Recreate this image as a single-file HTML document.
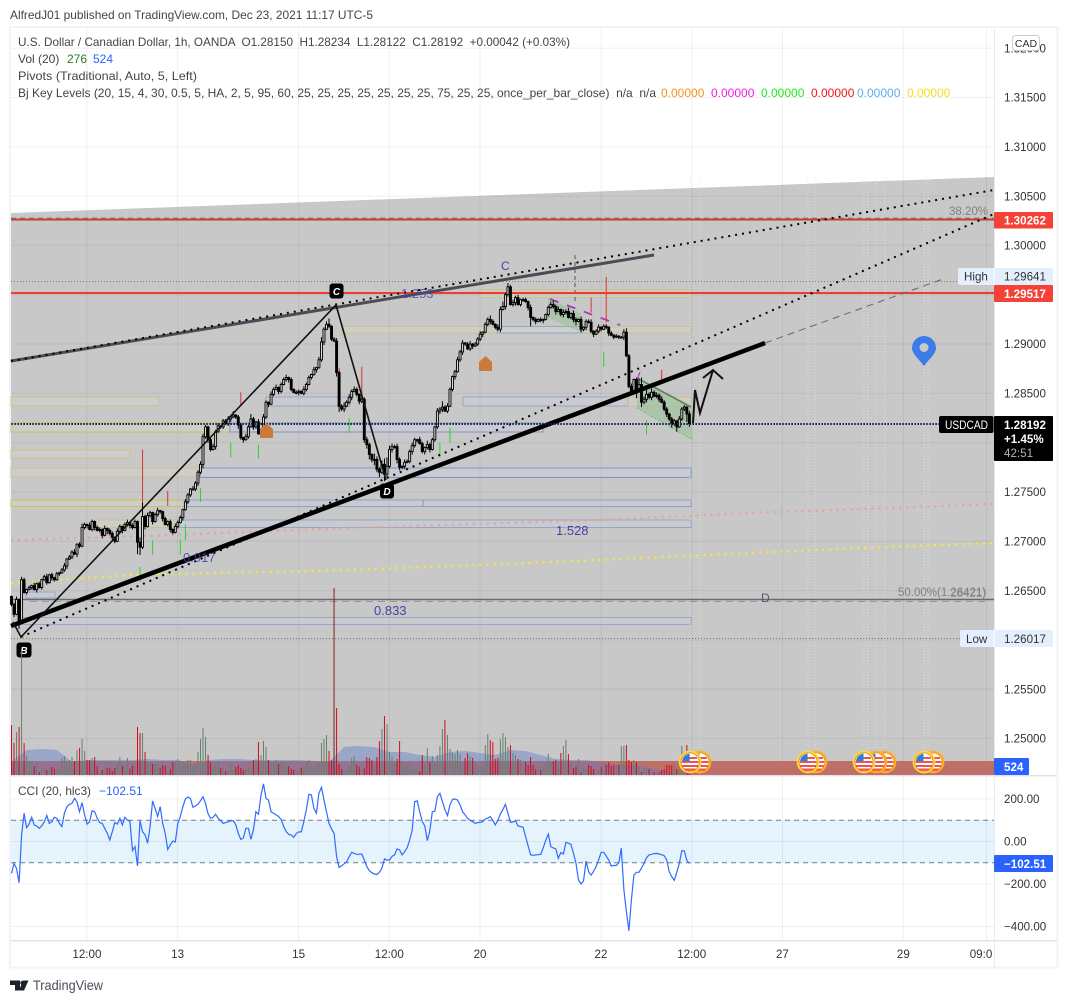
<!DOCTYPE html>
<html lang="en">
<head>
<meta charset="utf-8">
<title>USDCAD 1h chart</title>
<style>
html,body{margin:0;padding:0;background:#fff;}
body{width:1068px;height:1003px;overflow:hidden;}
svg{display:block;font-family:"Liberation Sans",sans-serif;}
</style>
</head>
<body>
<svg id="chart" xmlns="http://www.w3.org/2000/svg" width="1068" height="1003" viewBox="0 0 1068 1003">
  <rect x="0" y="0" width="1068" height="1003" fill="#ffffff"/>
  <text x="10" y="19" font-size="12" fill="#444" textLength="363" lengthAdjust="spacingAndGlyphs">AlfredJ01 published on TradingView.com, Dec 23, 2021 11:17 UTC-5</text>
  <rect x="10" y="27" width="1047.5" height="940.5" fill="#fff" stroke="#f0f3fa" stroke-width="2"/>
  <polygon points="11,213 994,177 994,775 11,775" fill="#c8c8c8"/>
  <rect x="11" y="820" width="983" height="43" fill="#e5f3fd"/>
  <g id="grid"></g>
  <g id="levels" fill-opacity="0.22" stroke-opacity="0.85">
    <rect x="11" y="397" width="148" height="9" fill="#ddd" stroke="#cdbf5a" stroke-width="0.8"/>
    <rect x="266" y="397" width="84" height="9" fill="#cfd6e8" stroke="#7f96c9" stroke-width="0.8"/>
    <rect x="11" y="423" width="219" height="9" fill="#ddd" stroke="#cdbf3a" stroke-width="1"/>
    <rect x="230" y="423" width="313" height="9" fill="#cfd6e8" stroke="#6f8cd0" stroke-width="1"/>
    <rect x="11" y="450" width="119" height="8" fill="#ddd" stroke="#cdbf5a" stroke-width="0.8"/>
    <rect x="11" y="468" width="187" height="9" fill="#ddd" stroke="#cdbf5a" stroke-width="0.8"/>
    <rect x="200" y="468" width="491" height="9.5" fill="#cfd6e8" stroke="#6f8cd0" stroke-width="1"/>
    <rect x="11" y="500" width="174" height="6.5" fill="#ddd" stroke="#cdbf3a" stroke-width="1"/>
    <rect x="187" y="500" width="504" height="6.5" fill="#cfd6e8" stroke="#6f8cd0" stroke-width="0.8"/>
    <line x1="423" y1="500" x2="423" y2="507" stroke="#6f8cd0"/>
    <rect x="95" y="520" width="83" height="7.5" fill="#ddd" stroke="#cdbf5a" stroke-width="0.8"/>
    <rect x="178" y="520" width="513" height="7.5" fill="#cfd6e8" stroke="#7f96c9" stroke-width="0.8"/>
    <rect x="26" y="592" width="29" height="6" fill="#cfd6e8" stroke="#7f96c9" stroke-width="0.8"/>
    <rect x="22" y="617.5" width="669" height="7" fill="#cfd6e8" stroke="#7f96c9" stroke-width="0.8"/>
    <rect x="480" y="290" width="211" height="7.5" fill="#ddd" stroke="#cdbf5a" stroke-width="0.8"/>
    <rect x="342" y="326.5" width="349" height="6.5" fill="#ddd" stroke="#cdbf5a" stroke-width="0.8"/>
    <rect x="497" y="326.5" width="85" height="6.5" fill="#cfd6e8" stroke="#7f96c9" stroke-width="0.8"/>
    <rect x="463" y="397" width="165" height="9" fill="#cfd6e8" stroke="#7f96c9" stroke-width="0.8"/>
    <rect x="628" y="397" width="63" height="9" fill="#ddd" stroke="#cdbf5a" stroke-width="0.8"/>
  </g>
  <g stroke="#e4e4e4" stroke-width="1" stroke-dasharray="1 2" opacity="0.8">
    <line x1="690" y1="177" x2="690" y2="750"/>
    <line x1="700" y1="177" x2="700" y2="750"/>
    <line x1="808" y1="177" x2="808" y2="750"/>
    <line x1="815" y1="177" x2="815" y2="750"/>
    <line x1="864" y1="177" x2="864" y2="750"/>
    <line x1="868" y1="177" x2="868" y2="750"/>
    <line x1="876" y1="177" x2="876" y2="750"/>
    <line x1="885" y1="177" x2="885" y2="750"/>
    <line x1="924" y1="177" x2="924" y2="750"/>
    <line x1="928" y1="177" x2="928" y2="750"/>
  </g>
  <g>
    <polygon points="548,298 580,313 583,333 548,318" fill="#90c090" fill-opacity="0.5"/>
    <polygon points="637,378 691,407 693,440 637,408" fill="#90c090" fill-opacity="0.5"/>
    <line x1="637" y1="378" x2="691" y2="407" stroke="#5c7f5c" stroke-width="1.6"/>
    <line x1="637" y1="408" x2="693" y2="440" stroke="#66c066" stroke-width="1" stroke-dasharray="2 2"/>
    <line x1="550" y1="299" x2="620" y2="325" stroke="#a835b8" stroke-width="1.8" stroke-dasharray="9 9"/>
    <polyline points="630,392 637,380 640,372" fill="none" stroke="#b040c0" stroke-width="1.2"/>
    <line x1="575" y1="255" x2="575" y2="303" stroke="#555" stroke-width="1" stroke-dasharray="4 3"/>
  </g>
  <g id="signals"></g>
  <g>
    <line x1="11" y1="218" x2="994" y2="218" stroke="#8a8a8a" stroke-width="1" stroke-dasharray="5 4"/>
    <line x1="11" y1="219.5" x2="994" y2="219.5" stroke="#c73a2e" stroke-width="2"/>
    <line x1="11" y1="281.5" x2="958" y2="281.5" stroke="#777" stroke-width="1" stroke-dasharray="1 2"/>
    <line x1="11" y1="293" x2="994" y2="293" stroke="#f23a30" stroke-width="2"/>
    <line x1="11" y1="638.5" x2="960" y2="638.5" stroke="#777" stroke-width="1" stroke-dasharray="1 2"/>
    <line x1="11" y1="599.5" x2="994" y2="599.5" stroke="#666a74" stroke-width="1.6"/>
    <line x1="30" y1="601.5" x2="990" y2="601.5" stroke="#999" stroke-width="1" stroke-dasharray="7 5"/>
  </g>
  <g fill="none">
    <polyline points="11,583 130,575 350,570 600,560 860,548 994,543" stroke="#f5e93a" stroke-width="2.4" stroke-dasharray="2 5"/>
    <polyline points="11,540 120,537 350,528 600,520 750,513 860,509 994,504" stroke="#e6a39a" stroke-width="2.4" stroke-dasharray="2 5"/>
    <line x1="11" y1="361" x2="654" y2="255" stroke="#4a4c55" stroke-width="3"/>
    <line x1="11" y1="361" x2="994" y2="190" stroke="#000" stroke-width="2" stroke-dasharray="2 5"/>
    <line x1="21" y1="637" x2="994" y2="214" stroke="#000" stroke-width="2" stroke-dasharray="2 5"/>
    <line x1="765" y1="343" x2="943" y2="279" stroke="#666" stroke-width="1" stroke-dasharray="7 5"/>
  </g>
  <g id="candles"></g>
  <g fill="none">
    <line x1="11" y1="626" x2="765" y2="343" stroke="#000" stroke-width="4.5"/>
    <polyline points="13,622 21,637 336,305 386,480" stroke="#111" stroke-width="1.6"/>
    <polyline points="693,423 695,390 700,413 713,370" stroke="#111" stroke-width="2"/>
    <polyline points="703,378 713,370 723,379" stroke="#111" stroke-width="2"/>
  </g>
  <g>
    <line x1="11" y1="424" x2="939" y2="424" stroke="#1c3a90" stroke-width="1.4" stroke-dasharray="1 2"/>
    <line x1="12" y1="424" x2="939" y2="424" stroke="#000" stroke-width="1.4" stroke-dasharray="1 2"/>
  </g>
  <g>
    <polygon points="266.500,423 273,429 273,438 260,438 260,429" fill="#cc7a3c"/>
    <polygon points="485.500,356 492,362 492,371 479,371 479,362" fill="#cc7a3c"/>
    <rect x="16.500" y="642.500" width="15" height="15" rx="3" fill="#000"/>
    <text x="24" y="654" font-size="10" font-weight="bold" font-style="italic" fill="#fff" text-anchor="middle">B</text>
    <rect x="329.500" y="283.500" width="14" height="15" rx="3" fill="#000"/>
    <text x="336.500" y="295" font-size="10" font-weight="bold" font-style="italic" fill="#fff" text-anchor="middle">C</text>
    <rect x="380" y="483.500" width="14" height="15" rx="3" fill="#000"/>
    <text x="387" y="495" font-size="10" font-weight="bold" font-style="italic" fill="#fff" text-anchor="middle">D</text>
  </g>
  <g fill="#4b3fa5" font-size="13">
    <text x="401" y="298" opacity="0.8">1.253</text>
    <text x="501" y="270" font-size="12">C</text>
    <text x="556" y="535">1.528</text>
    <text x="183" y="562" opacity="0.85">0.917</text>
    <text x="374" y="615">0.833</text>
    <text x="761" y="602" font-size="12" fill="#555a70">D</text>
  </g>
  <g fill="#808080" font-size="11.500">
    <text x="949" y="215">38.20%</text>
    <text x="898" y="596">50.00%(1.26421)</text>
    <text x="950" y="597" opacity="0.7">26421)</text>
  </g>
  <g>
    <path d="M924 366 C919 359 912 354 912 348 A12 12 0 0 1 936 348 C936 354 929 359 924 366 Z" fill="#3c7be8"/>
    <circle cx="924" cy="347.500" r="4.500" fill="#c8c8c8"/>
  </g>
  <rect x="11" y="761" width="983" height="14" fill="#bd6f68"/>
  <g id="volume"></g>
  <polyline id="cciLine" fill="none" stroke="#2f6bff" stroke-width="1.200"/>
  <g id="flags"></g>
  <g>
    <rect x="11" y="775" width="1046" height="1.500" fill="#e0e3eb"/>
    <rect x="11" y="940" width="1046" height="1.500" fill="#e0e3eb"/>
    <rect x="994" y="29" width="1" height="938" fill="#e9ebf2"/>
  </g>
  <g id="axisText" fill="#333" font-size="11.600"></g>
  <g font-size="12" fill="#444">
    <text x="18" y="46" textLength="552" lengthAdjust="spacingAndGlyphs" xml:space="preserve">U.S. Dollar / Canadian Dollar, 1h, OANDA  O1.28150  H1.28234  L1.28122  C1.28192  +0.00042 (+0.03%)</text>
    <text x="18" y="63">Vol (20)</text>
    <text x="67" y="63" fill="#2a7a2a">276</text>
    <text x="93" y="63" fill="#2962ff">524</text>
    <text x="18" y="80" textLength="179" lengthAdjust="spacingAndGlyphs">Pivots (Traditional, Auto, 5, Left)</text>
    <text x="18" y="97" textLength="638" lengthAdjust="spacingAndGlyphs" xml:space="preserve">Bj Key Levels (20, 15, 4, 30, 0.5, 5, HA, 2, 5, 95, 60, 25, 25, 25, 25, 25, 25, 25, 75, 25, 25, once_per_bar_close)  n/a  n/a</text>
    <text x="661" y="97" fill="#f7931a">0.00000</text>
    <text x="711" y="97" fill="#f020e0">0.00000</text>
    <text x="761" y="97" fill="#22ee22">0.00000</text>
    <text x="811" y="97" fill="#f01818">0.00000</text>
    <text x="857" y="97" fill="#5ab0f0">0.00000</text>
    <text x="907" y="97" fill="#f5e020">0.00000</text>
    <text x="18" y="795" textLength="73" lengthAdjust="spacingAndGlyphs">CCI (20, hlc3)</text>
    <text x="99" y="795" fill="#2962ff">−102.51</text>
  </g>
  <g font-size="11.600">
    <rect x="1012.500" y="35.500" width="27" height="15" rx="3" fill="#fff" stroke="#c9ccd4"/>
    <text x="1026" y="47" text-anchor="middle" fill="#333" font-size="10.500">CAD</text>
    <rect x="994" y="212" width="59" height="16.500" rx="1" fill="#f44336"/>
    <text x="1004" y="224.500" fill="#fff" font-weight="bold">1.30262</text>
    <rect x="958" y="268" width="95" height="17" rx="2" fill="#e3effd"/>
    <rect x="993.500" y="268" width="1" height="17" fill="#fff"/>
    <text x="964" y="280.500" fill="#333">High</text>
    <text x="1004" y="280.500" fill="#333">1.29641</text>
    <rect x="994" y="285" width="59" height="17" rx="1" fill="#f44336"/>
    <text x="1004" y="298" fill="#fff" font-weight="bold">1.29517</text>
    <rect x="939" y="416" width="54.500" height="17" rx="2" fill="#000"/>
    <text x="945" y="429" fill="#fff" font-size="11.500" textLength="43" lengthAdjust="spacingAndGlyphs">USDCAD</text>
    <rect x="994" y="416" width="59" height="45" rx="1" fill="#000"/>
    <text x="1004" y="429" fill="#fff" font-weight="bold">1.28192</text>
    <text x="1004" y="443" fill="#fff" font-weight="bold">+1.45%</text>
    <text x="1004" y="457" fill="#b5b5b5">42:51</text>
    <rect x="960" y="630" width="93" height="17" rx="2" fill="#e3effd"/>
    <rect x="993.500" y="630" width="1" height="17" fill="#fff"/>
    <text x="966" y="643" fill="#333">Low</text>
    <text x="1004" y="643" fill="#333">1.26017</text>
    <rect x="994" y="758" width="35" height="17" rx="1" fill="#2962ff"/>
    <text x="1004" y="771" fill="#fff" font-weight="bold">524</text>
    <rect x="994" y="855" width="59" height="17" rx="1" fill="#2962ff"/>
    <text x="1004" y="868" fill="#fff" font-weight="bold">−102.51</text>
  </g>
  <g>
    <path d="M10 980.500 H20 V990.500 H15 V985 H10 Z M28.500 980.500 L24 990.500 H18.800 L23.300 980.500 Z" fill="#1e222d"/>
    <circle cx="22.500" cy="983" r="2.200" fill="#1e222d"/>
    <text x="33" y="990" font-size="14" fill="#4a4e59" textLength="70" lengthAdjust="spacingAndGlyphs">TradingView</text>
  </g>
</svg>
<script>
// ---- Chart data ----
const closes = [
1.2636,1.2626,1.2641,1.2619,1.2661,1.2648,1.2651,1.2653,1.2655,1.2651,1.2657,1.2653,1.2661,1.2664,1.2658,1.2666,1.2663,1.2661,1.2667,1.2668,
1.2671,1.2675,1.2682,1.2684,1.2689,1.2687,1.2697,1.2695,1.2714,1.2717,1.2716,1.2712,1.2720,1.2714,1.2711,1.2712,1.2706,1.2713,1.2711,1.2708,
1.2704,1.2700,1.2710,1.2715,1.2711,1.2717,1.2719,1.2716,1.2714,1.2720,1.2699,1.2694,1.2725,1.2715,1.2726,1.2729,1.2720,1.2727,1.2731,1.2730,
1.2723,1.2717,1.2720,1.2712,1.2709,1.2715,1.2719,1.2724,1.2732,1.2740,1.2747,1.2753,1.2753,1.2759,1.2770,1.2778,1.2806,1.2816,1.2803,1.2793,
1.2796,1.2811,1.2817,1.2816,1.2822,1.2819,1.2824,1.2826,1.2828,1.2826,1.2818,1.2805,1.2803,1.2806,1.2816,1.2824,1.2816,1.2821,1.2809,1.2810,
1.2826,1.2841,1.2839,1.2849,1.2854,1.2856,1.2852,1.2859,1.2864,1.2866,1.2864,1.2854,1.2851,1.2851,1.2852,1.2850,1.2854,1.2859,1.2866,1.2869,
1.2874,1.2876,1.2884,1.2902,1.2915,1.2920,1.2918,1.2905,1.2903,1.2871,1.2837,1.2834,1.2837,1.2841,1.2846,1.2852,1.2854,1.2849,1.2842,1.2844,
1.2803,1.2798,1.2788,1.2783,1.2783,1.2773,1.2770,1.2778,1.2768,1.2776,1.2793,1.2796,1.2796,1.2783,1.2775,1.2776,1.2780,1.2781,1.2791,1.2797,
1.2803,1.2803,1.2799,1.2791,1.2795,1.2798,1.2793,1.2803,1.2816,1.2832,1.2834,1.2836,1.2832,1.2837,1.2854,1.2867,1.2872,1.2884,1.2892,1.2901,
1.2900,1.2895,1.2900,1.2898,1.2900,1.2905,1.2910,1.2912,1.2920,1.2925,1.2923,1.2920,1.2917,1.2915,1.2935,1.2938,1.2950,1.2958,1.2940,1.2942,
1.2947,1.2940,1.2945,1.2945,1.2943,1.2937,1.2927,1.2925,1.2923,1.2925,1.2924,1.2925,1.2930,1.2937,1.2940,1.2938,1.2933,1.2935,1.2930,1.2932,
1.2933,1.2927,1.2931,1.2925,1.2923,1.2925,1.2915,1.2917,1.2923,1.2922,1.2913,1.2910,1.2913,1.2917,1.2915,1.2918,1.2917,1.2911,1.2909,1.2907,
1.2908,1.2907,1.2907,1.2912,1.2888,1.2857,1.2852,1.2864,1.2854,1.2859,1.2841,1.2844,1.2849,1.2846,1.2851,1.2847,1.2848,1.2844,1.2841,1.2834,
1.2829,1.2824,1.2819,1.2822,1.2816,1.2824,1.2834,1.2836,1.2829,1.28192];
const upperWicks = [
1,2,3,1,3,2,1,2,1,3,1,2,1,2,3,1,2,1,2,1,2,3,1,2,2,3,1,2,4,2,1,3,2,1,2,2,1,3,1,2,
2,1,3,2,1,2,3,1,2,2,1,5,14,2,3,2,1,2,3,1,1,2,1,2,1,3,2,2,1,3,2,1,3,2,2,3,3,2,1,2,
3,2,3,1,2,2,3,2,4,1,2,2,1,3,2,5,2,1,3,2,3,2,1,3,2,3,1,2,2,3,1,2,1,2,2,1,3,2,2,1,
3,1,3,5,2,3,6,1,2,3,2,2,4,2,3,2,3,2,1,3,2,3,2,1,6,3,2,4,6,9,4,3,2,3,2,1,3,2,2,3,
2,1,3,2,1,4,2,2,1,3,2,6,2,3,2,1,2,3,2,3,1,2,3,1,2,2,3,1,2,2,4,2,1,3,3,5,2,4,2,3,
2,3,1,2,2,1,3,1,2,1,2,1,1,2,3,4,2,3,1,3,2,4,1,3,2,1,3,1,2,2,3,1,2,3,1,2,2,1,2,1,
2,1,1,3,4,2,3,1,2,6,7,3,9,2,4,2,3,2,3,2,2,1,2,2,1,3,2,2,1,3,2,8,2,1];
const lowerWicks = [
2,3,1,8,2,1,2,1,2,1,3,1,2,1,2,1,3,2,1,2,1,2,3,1,2,1,3,2,1,2,3,1,2,3,1,2,3,1,4,2,
3,2,1,2,3,1,2,3,2,1,12,8,2,3,1,2,3,1,2,2,3,1,2,3,2,1,2,1,3,1,2,2,1,2,3,2,4,2,3,2,
1,3,1,2,2,1,2,3,1,2,4,2,3,1,2,1,3,2,1,3,1,2,3,1,2,1,3,2,1,2,3,2,1,2,3,1,2,2,1,2,
1,3,1,2,3,1,2,2,1,4,6,2,3,1,2,3,1,2,3,2,3,4,5,3,6,3,5,2,7,3,2,3,2,4,3,2,3,1,2,3,
2,3,1,2,3,2,3,1,2,2,3,3,1,2,1,2,3,1,2,3,2,1,2,3,1,2,2,3,1,2,3,1,2,2,3,1,3,2,1,2,
3,1,2,2,1,3,9,2,3,1,2,3,1,2,1,2,3,1,2,3,2,1,2,3,4,1,3,2,3,1,2,3,1,2,2,1,2,3,1,2,
1,2,1,3,1,2,3,2,9,3,5,2,3,2,3,1,2,3,1,2,3,2,4,2,5,1,2,2,8,3];
const volumes = [
2500,1600,2150,2400,6250,1600,950,650,700,450,550,150,250,350,250,350,400,300,300,300,
850,950,600,750,900,700,1250,1350,1800,1200,750,750,850,900,450,150,250,450,350,350,
200,350,550,900,450,400,850,300,450,450,2400,2100,2100,1150,700,600,550,550,550,350,
500,450,200,300,650,650,800,700,650,550,750,750,450,600,1150,1800,2350,1900,1000,650,
450,600,700,350,350,200,250,550,300,400,500,350,250,300,400,450,750,800,1650,1000,
1700,1400,750,600,650,750,550,700,700,500,450,300,250,150,250,350,350,650,750,500,
400,600,600,1600,1800,2000,1200,750,9350,3350,550,300,200,300,450,850,950,500,400,300,
350,900,850,750,500,900,1700,2300,2950,2550,1150,900,650,800,1700,700,400,550,550,300,
350,350,200,1000,500,1350,650,950,650,1000,1450,2300,2750,2000,1300,1100,1050,1250,1050,200,
850,1100,950,850,700,450,450,400,1500,2050,1750,1650,800,850,1800,2100,1900,1400,1500,1100,
1000,800,750,150,650,500,900,500,300,450,250,400,650,1050,700,700,750,600,1100,1450,
1750,1050,700,350,400,800,150,350,300,500,450,300,100,300,400,250,500,650,450,500,
500,500,1450,1450,1500,750,650,750,650,450,150,350,350,300,150,150,150,150,250,300,
500,500,500,500,300,300,1450,600,1500,524];
const volumeMaSampleStep = 6;
const volumeMaSamples = [
650,1250,1300,1250,650,750,750,750,750,800,750,750,550,750,800,800,750,750,750,750,
700,650,1400,1450,1400,1150,1150,1000,900,1150,1200,1100,1000,1250,1200,1000,800,750,750,650,
500,500,400,200,100,50];
const cciValues = [
-150,-103,-126,-194,31,133,65,82,114,78,73,62,73,93,123,85,93,114,109,85,
70,133,164,175,180,203,187,140,183,125,82,93,145,140,109,89,85,62,38,7,
46,89,82,109,78,114,101,95,-43,-24,-115,98,46,31,-8,70,191,156,117,164,
85,38,-37,-16,2,-2,85,117,164,200,209,203,161,167,175,192,211,180,130,109,
114,128,109,98,85,89,93,97,98,78,38,10,16,62,62,10,54,140,128,219,
271,203,195,140,133,125,117,104,70,46,34,31,20,38,45,45,93,148,222,219,
156,133,227,255,195,140,85,60,38,-71,-122,-115,-105,-95,-71,-51,-56,-60,-60,-59,
-87,-118,-137,-147,-153,-156,-145,-126,-82,-87,-87,-70,-63,-35,-40,-63,-48,-30,7,54,
188,191,140,93,73,4,50,140,143,211,227,188,150,122,172,198,200,195,172,140,
125,109,100,93,85,89,90,93,106,110,117,100,78,100,130,150,175,133,90,92,
98,73,70,67,23,-20,-63,-65,-63,-62,-60,-30,5,35,-24,-30,-35,-79,-52,-59,
-4,-8,-13,-56,-103,-181,-200,-186,-92,-142,-158,-140,-118,-85,-51,-51,-68,-87,-115,-113,
-113,-100,-31,-228,-330,-420,-275,-158,-145,-145,-125,-103,-76,-63,-60,-57,-56,-59,-62,-67,
-87,-142,-165,-183,-145,-103,-43,-44,-90,-102.51];
const priceTicks = [1.32,1.315,1.31,1.305,1.30,1.29,1.285,1.275,1.27,1.265,1.255,1.25];
const priceGridOnly = [1.295,1.28,1.26];
const cciTicks = [200,0,-200,-400];
const cciGuides = [100,-100];
const timeTickBars = [30,66,114,150,186,234,270,306,354,387];
const timeTickLabels = ['12:00','13','15','12:00','20','22','12:00','27','29','09:0'];
const redSignalBars = [52,62,91,130,139,230,236,258];
const redSignalHighs = [1.2793,1.2751,1.2851,1.2876,1.2877,1.2947,1.2968,1.2874];
const redSignalLows = [1.2737,1.2736,1.2838,1.2859,1.2847,1.2932,1.2922,1.2864];
const greenSignalBars = [51,56,67,69,75,87,98,134,170,174,235,252];
const greenSignalHighs = [1.2674,1.2701,1.2702,1.2717,1.2754,1.2800,1.2798,1.2825,1.2800,1.2815,1.2892,1.2823];
const greenSignalLows = [1.2659,1.2686,1.2686,1.2701,1.2740,1.2785,1.2784,1.2810,1.2785,1.2800,1.2877,1.2808];
const flagEventBars = [273.2,269.3,319.2,316.1,346.6,343,338.3,365.7,362.1];
const flagEventIsFront = [false,true,false,true,false,false,true,false,true];

// ---- Axis functions ----
const SVGNS = 'http://www.w3.org/2000/svg';
const xOf = i => 11.5 + i * 2.52;
const yOf = p => 97.5 + (1.315 - p) * 9861.5;
const volH = v => v / 50;
const cciY = v => 841.5 - v * 0.2125;
const PIP = 0.0001;
const mk = (tag, attrs, parent) => {
  const el = document.createElementNS(SVGNS, tag);
  for (const k in attrs) el.setAttribute(k, attrs[k]);
  parent.appendChild(el);
  return el;
};
const grid = document.getElementById('grid');
const axisText = document.getElementById('axisText');
const GRID = 'rgba(42,46,57,0.07)';

// Grid and price ticks
[...priceTicks, ...priceGridOnly].forEach(p => {
  const l = mk('line', {x1: 11, x2: 994, y1: yOf(p), y2: yOf(p), stroke: GRID}, grid);
  
  
});
priceTicks.forEach(p => {
  const t = mk('text', {x: 1004, y: yOf(p) + 4.2}, axisText);
  t.textContent = p.toFixed(5);
  
  
});
cciTicks.forEach(v => {
  const l = mk('line', {x1: 11, x2: 994, y1: cciY(v), y2: cciY(v), stroke: GRID}, grid);
  
  
  const t = mk('text', {x: 1004, y: cciY(v) + 4.2}, axisText);
  t.textContent = v.toFixed(2).replace('-', '−');
  
  
});
cciGuides.forEach(v => {
  const l = mk('line', {x1: 11, x2: 994, y1: cciY(v), y2: cciY(v), stroke: '#787b86', 'stroke-dasharray': '5 4'}, grid);
  
  
});
timeTickBars.forEach((b, n) => {
  const x = xOf(b) - 0.2;
  const l = mk('line', {x1: x, x2: x, y1: 29, y2: 940, stroke: GRID}, grid);
  
  
  const t = mk('text', {x: Math.min(x, 981), y: 958, 'text-anchor': 'middle'}, axisText);
  t.textContent = timeTickLabels[n];
  
  
});

// Signal ticks
const signals = document.getElementById('signals');
redSignalBars.forEach((b, n) => {
  const l = mk('line', {x1: xOf(b), x2: xOf(b), y1: yOf(redSignalHighs[n]), y2: yOf(redSignalLows[n]), stroke: '#d9332b', 'stroke-width': 1}, signals);
  
  
});
greenSignalBars.forEach((b, n) => {
  const l = mk('line', {x1: xOf(b), x2: xOf(b), y1: yOf(greenSignalHighs[n]), y2: yOf(greenSignalLows[n]), stroke: '#2fd02f', 'stroke-width': 1}, signals);
  
  
});

// Candles
const candles = document.getElementById('candles');
closes.forEach((c, i) => {
  const o = i === 0 ? c + 0.0008 : closes[i - 1];
  const top = Math.max(o, c), bot = Math.min(o, c);
  const x = xOf(i);
  const wick = mk('line', {x1: x, x2: x, y1: yOf(top + upperWicks[i] * PIP), y2: yOf(bot - lowerWicks[i] * PIP), stroke: '#000', 'stroke-width': 1}, candles);
  
  
  const up = c >= o;
  const body = mk('rect', {x: x - 1, y: yOf(top), width: 2, height: Math.max(yOf(bot) - yOf(top), 1), fill: up ? '#d8d8d8' : '#000', stroke: '#000', 'stroke-width': 0.9}, candles);
  
  
});

// Volume moving-average area and bars
const volume = document.getElementById('volume');
const maPts = volumeMaSamples.map((v, n) => xOf(n * volumeMaSampleStep) + ',' + (775 - volH(v)));
const maArea = mk('polygon', {points: xOf(0) + ',775 ' + maPts.join(' ') + ' ' + xOf((volumeMaSamples.length - 1) * volumeMaSampleStep) + ',775', fill: '#5a78c8', 'fill-opacity': 0.42}, volume);


volumes.forEach((v, i) => {
  const up = i > 0 && closes[i] >= closes[i - 1];
  const h = volH(v);
  const bar = mk('rect', {x: xOf(i) - 0.5, y: 775 - h, width: 1, height: h, fill: up ? '#66806c' : (v > 5000 ? '#8a1c20' : '#cc0f1c')}, volume);
  
  
});

// CCI line
document.getElementById('cciLine').setAttribute('points', cciValues.map((v, i) => xOf(i).toFixed(1) + ',' + cciY(v).toFixed(1)).join(' '));

// Event icons
const flags = document.getElementById('flags');
flagEventBars.forEach((b, n) => {
  const cx = xOf(b), cy = 762, front = flagEventIsFront[n];
  const g = mk('g', {}, flags);
  
  
  const ring = mk('circle', {cx: cx, cy: cy, r: 10.5, fill: '#fff', stroke: front ? '#ffd83a' : '#ffb020', 'stroke-width': 1.8}, g);
  
  
  const r2 = mk('circle', {cx: cx, cy: cy, r: 9.2, fill: 'none', stroke: '#f08a00', 'stroke-width': 0.9}, g);
  
  
  [-5, -1, 3, 6.5].forEach(dy => {
    const half = Math.sqrt(Math.max(72 - dy * dy, 1));
    const s = mk('rect', {x: cx - half, y: cy + dy, width: half * 2, height: 2, fill: '#ef5350'}, g);
    
    
  });
  const canton = mk('path', {d: 'M' + (cx - 8) + ' ' + (cy - 1) + ' A8.500 8.500 0 0 1 ' + (cx - 0.5) + ' ' + (cy - 8.4) + ' V' + (cy - 1) + ' Z', fill: '#2a7fde'}, g);
  
  
});
</script>
</body>
</html>
